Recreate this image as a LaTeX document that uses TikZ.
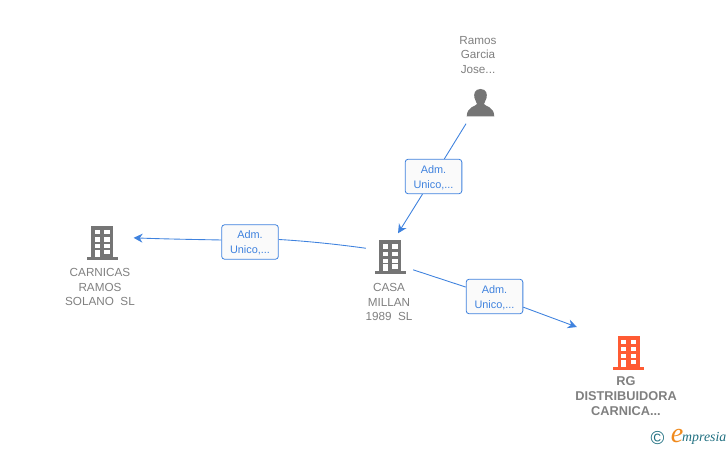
\documentclass[tikz,border=0pt]{standalone}
\usepackage{fontspec}
\setmainfont{Liberation Sans}
\newfontfamily\logofont{Liberation Serif}
\usepackage{xcolor}
\usetikzlibrary{arrows.meta,positioning}

\definecolor{iconGray}{HTML}{757575}
\definecolor{iconOrange}{HTML}{FF5B33}
\definecolor{textGray}{HTML}{808080}
\definecolor{linkBlue}{HTML}{3F82DE}
\definecolor{logoTeal}{HTML}{1F6F80}
\definecolor{logoOrange}{HTML}{F08A1D}

\newcommand{\roletext}{\rule{0pt}{8.6pt}Adm.\\Unico,...}

\tikzset{
    spot/.style={circle, inner sep=0pt, outer sep=0pt, minimum size=#1*0.3mm},
    name text/.style={text=textGray, align=center, inner sep=0pt,
        font={\fontsize{10}{12.75}\selectfont}},
    role box/.style={draw=linkBlue, rounded corners=2.5pt, fill=black!2, line width=0.7pt,
        minimum width=17mm, minimum height=10.35mm, inner sep=0pt, align=center, text=linkBlue,
        font={\fontsize{9.3}{12.75}\selectfont}},
    link/.style={draw=linkBlue, line width=0.75pt},
    link tip/.style={link, -{Stealth[length=9*0.3mm, width=9*0.3mm]}},
    pics/building/.style={code={
        \fill[#1] (-15.5,-3) rectangle (15.5,0);
        \fill[#1] (-11,-34) rectangle (11,-3);
        \foreach \ya/\yb in {-30/-25.7, -22.6/-18.2, -15.9/-11.6} {
            \fill[white] (-7.5,\ya) rectangle (-2.3,\yb);
            \fill[white] (2.3,\ya) rectangle (7.5,\yb);
        }
        \fill[white] (-7.5,-10) rectangle (-2.3,-3);
        \fill[white] (2.3,-10) rectangle (7.5,-5.7);
    }}
}

\begin{document}
\begin{tikzpicture}[x=0.3mm, y=-0.3mm]
    \useasboundingbox (0,0) rectangle (728,450);

    % Icon spots the connectors attach to
    \node[spot=50] (ramos) at (480,103) {};
    \node[spot=52] (casa) at (390,258) {};
    \node[spot=66] (carnicas) at (101,243) {};
    \node[spot=114] (rg) at (628,352) {};

    % Buildings
    \pic at (102,260) {building=iconGray};
    \pic at (390,274.5) {building=iconGray};
    \pic at (628.5,369.5) {building=iconOrange};

    % Person
    \fill[iconGray] (480.5,89) .. controls (474.5,89) and (473.5,94) .. (474.5,98)
        .. controls (475,101) and (477,102.5) .. (477,104)
        .. controls (476,106.5) and (467,106) .. (466.7,116.5) -- (494.3,116.5)
        .. controls (494,106) and (485,106.5) .. (484,104)
        .. controls (484,102.5) and (486,101) .. (486.5,98)
        .. controls (487.5,94) and (486.5,89) .. (480.5,89) -- cycle;

    % Names
    \node[name text] (ramosname) at (478,55) {Ramos\\Garcia\\Jose...};
    \node[name text] (carnicasname) at (100,287) {CARNICAS\\RAMOS\\SOLANO\ \ SL};
    \node[name text] (casaname) at (389,302) {CASA\\MILLAN\\1989\ \ SL};
    \node[name text, font={\fontsize{10.9}{12.75}\selectfont\bfseries}] (rgname) at (626,396)
        {RG\\DISTRIBUIDORA\\CARNICA...};

    % Role boxes
    \node[role box] (roleramos) at (433.5,176.5) {\roletext};
    \node[role box] (rolecarnicas) at (250,242) {\roletext};
    \node[role box] (rolerg) at (494.5,296.5) {\roletext};

    % Connectors
    \draw[link] (ramos.236) -- (roleramos);
    \draw[link tip] (roleramos) -- (casa.72);
    \draw[link] (casa.158) .. controls (335,244) and (305,241) .. (rolecarnicas.5);
    \draw[link tip] (rolecarnicas.176) .. controls (195,239.5) and (165,239) .. (carnicas.9);
    \draw[link] (casa.333) -- (rolerg);
    \draw[link tip] (rolerg) -- (rg.154);

    % Logo
    \node[text=logoTeal, inner sep=0pt, font={\fontsize{16}{16}\selectfont}] (copy) at (657.5,438) {©};
    \node[text=logoOrange, inner sep=0pt, font={\logofont\itshape\fontsize{24}{24}\selectfont}] (logoe) at (677,436) {e};
    \node[text=logoTeal, inner sep=0pt, anchor=west, font={\logofont\itshape\fontsize{11.8}{11.8}\selectfont}] (logotext) at (682,438) {mpresia};
\end{tikzpicture}
\end{document}
